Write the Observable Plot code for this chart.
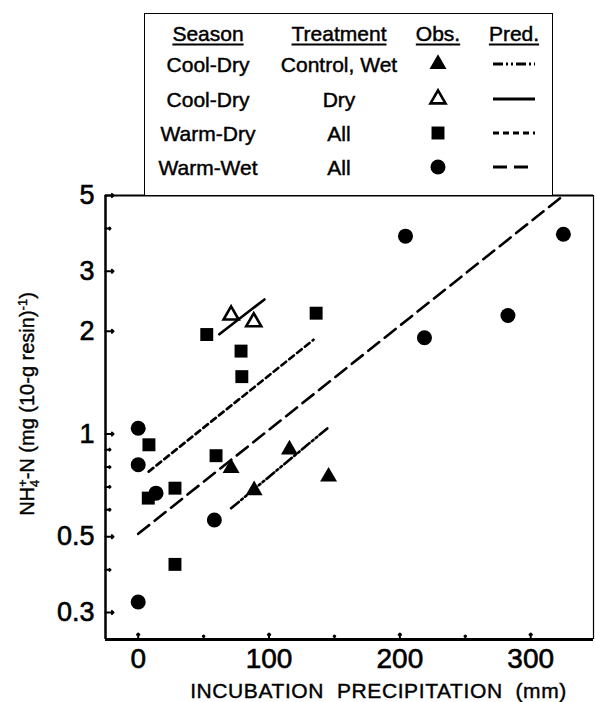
<!DOCTYPE html>
<html><head><meta charset="utf-8">
<script src="https://cdn.jsdelivr.net/npm/d3@7"></script>
<script src="https://cdn.jsdelivr.net/npm/@observablehq/plot@0.6"></script>
<style>
body{margin:0;background:#fff;font-family:"Liberation Sans",Arial,Helvetica,sans-serif;color:#000;}
#wrap{position:relative;width:595px;height:702px;overflow:hidden;}
#wrap svg text{stroke:#000;stroke-width:0.6px;}
#wrap svg g[aria-label="text"] text{letter-spacing:0.6px;stroke-width:0.4px;}
#legend{position:absolute;left:144px;top:13px;width:409px;height:182px;border:1.3px solid #000;border-bottom:none;box-sizing:border-box;background:#fff;}
.cell{position:absolute;transform:translate(-50%,-50%);font-size:21px;white-space:nowrap;line-height:1;-webkit-text-stroke:0.45px #000;}
.hdr{text-decoration:underline;text-decoration-thickness:1.5px;text-underline-offset:3px;}
.cell svg{display:block;}
#ytitle{position:absolute;left:29px;top:404px;transform:translate(-50%,-50%) rotate(-90deg);font-size:20px;white-space:nowrap;line-height:1;-webkit-text-stroke:0.4px #000;}
.ss{display:inline-block;vertical-align:-0.35em;font-size:13px;line-height:0.95;text-align:left;}
.ss span{display:block;}
sup.m{font-size:13px;vertical-align:0.55em;line-height:0;}
</style></head>
<body><div id="wrap"></div>
<script>
// ---- data ----
const xDomain = [-25, 348];
const yDomain = [0.25, 5];
const xTicks = [0, 100, 200, 300];
const xMinor = [50, 150, 250];
const yTicks = [5, 3, 2, 1, 0.5, 0.3];
const yMinor = [4, 0.9, 0.8, 0.7, 0.6, 0.4];

// observations
const coolWetX = [71, 88.6, 115.6, 145.5];
const coolWetY = [0.795, 0.684, 0.90, 0.75];
const coolDryX = [71, 88.3];
const coolDryY = [2.23, 2.13];
const warmDryX = [8.2, 7.7, 28.1, 59.5, 28.1, 52.4, 78.6, 79.2, 136];
const warmDryY = [0.93, 0.649, 0.694, 0.864, 0.415, 1.957, 1.75, 1.473, 2.26];
const warmWetX = [0, 0, 13.6, 58.2, 0, 204.3, 218.8, 282.6, 325];
const warmWetY = [1.04, 0.813, 0.671, 0.56, 0.322, 3.80, 1.914, 2.225, 3.85];

// predicted lines (start, end)
const coolWetPredX = [71, 146];
const coolWetPredY = [0.606, 1.05];
const coolDryPredX = [62, 96.5];
const coolDryPredY = [1.96, 2.48];
const warmDryPredX = [8, 134];
const warmDryPredY = [0.776, 1.89];
const warmWetPredX = [0, 325];
const warmWetPredY = [0.51, 5.0];

// legend
const legendHeaders = ["Season", "Treatment", "Obs.", "Pred."];
const legendSeason = ["Cool-Dry", "Cool-Dry", "Warm-Dry", "Warm-Wet"];
const legendTreatment = ["Control, Wet", "Dry", "All", "All"];

const xTitle = "INCUBATION  PRECIPITATION  (mm)";

// ---- styles ----
const styles = [
  {symbol: "triangle", fill: "black", stroke: "none", sw: 0, r: 6.3, dash: "10,3,2,3,2,3"},
  {symbol: "triangle", fill: "white", stroke: "black", sw: 2.6, r: 5.6, dash: null},
  {symbol: "square", fill: "black", stroke: "none", sw: 0, r: 7.3, dash: "6,4"},
  {symbol: "circle", fill: "black", stroke: "none", sw: 0, r: 7.5, dash: "14,7"}
];
const zip = (xs, ys) => xs.map((x, i) => ({x, y: ys[i]}));
const obsSets = [zip(coolWetX, coolWetY), zip(coolDryX, coolDryY), zip(warmDryX, warmDryY), zip(warmWetX, warmWetY)];
const predSets = [zip(coolWetPredX, coolWetPredY), zip(coolDryPredX, coolDryPredY), zip(warmDryPredX, warmDryPredY), zip(warmWetPredX, warmWetPredY)];

const marks = [
  Plot.axisX(xTicks, {tickSize: 0, tickPadding: 9, fontSize: 28, label: null}),
  Plot.axisY(yTicks, {tickSize: 0, tickPadding: 11, fontSize: 27, label: null, tickFormat: d => String(d)}),
  Plot.vectorX(xTicks, {x: d => d, frameAnchor: "bottom", rotate: 0, length: 6, anchor: "start", strokeWidth: 2}),
  Plot.vectorX(xMinor, {x: d => d, frameAnchor: "bottom", rotate: 0, length: 4, anchor: "start", strokeWidth: 2}),
  Plot.vectorY(yTicks, {y: d => d, frameAnchor: "left", rotate: 90, length: 8, anchor: "start", strokeWidth: 2}),
  Plot.vectorY(yMinor, {y: d => d, frameAnchor: "left", rotate: 90, length: 5, anchor: "start", strokeWidth: 2}),
  Plot.ruleX([xDomain[0]], {strokeWidth: 2.5}),
  Plot.ruleX([xDomain[1]], {strokeWidth: 1.2}),
  Plot.ruleY([yDomain[0]], {strokeWidth: 3}),
  Plot.ruleY([yDomain[1]], {strokeWidth: 2.2}),
  Plot.text([xTitle], {frameAnchor: "bottom", dy: 52, dx: 29, text: d => d, fontSize: 21, fill: "black", lineAnchor: "middle"})
];
predSets.forEach((p, i) => {
  marks.push(Plot.line(p, {x: "x", y: "y", stroke: "black", strokeWidth: 2.6, strokeDasharray: styles[i].dash || undefined}));
});
obsSets.forEach((o, i) => {
  const s = styles[i];
  marks.push(Plot.dot(o, {x: "x", y: "y", symbol: () => s.symbol, r: s.r, fill: s.fill, stroke: s.stroke, strokeWidth: s.sw}));
});

const chart = Plot.plot({
  width: 595, height: 702,
  marginTop: 195, marginBottom: 63, marginLeft: 105, marginRight: 2,
  style: {fontFamily: '"Liberation Sans", Arial, Helvetica, sans-serif', color: "#000", background: "#fff"},
  x: {domain: xDomain},
  y: {type: "log", domain: yDomain},
  marks
});
const wrap = document.getElementById("wrap");
wrap.appendChild(chart);

// legend
const leg = document.createElement("div");
leg.id = "legend";
wrap.appendChild(leg);
const colX = [63, 194, 293, 369];
const rowY = [19, 50, 85, 119, 153];
function cell(html, cx, cy, cls) {
  const d = document.createElement("div");
  d.className = "cell" + (cls ? " " + cls : "");
  d.style.left = cx + "px"; d.style.top = cy + "px";
  d.innerHTML = html;
  leg.appendChild(d);
  return d;
}
legendHeaders.forEach((h, j) => cell(h, colX[j], rowY[0], "hdr"));
legendSeason.forEach((s, i) => {
  cell(s, colX[0], rowY[i + 1]);
  cell(legendTreatment[i], colX[1], rowY[i + 1]);
  const st = styles[i];
  const sym = {triangle: d3.symbolTriangle, square: d3.symbolSquare, circle: d3.symbolCircle}[st.symbol];
  const path = d3.symbol(sym, Math.PI * st.r * st.r)();
  cell(`<svg width="24" height="24"><path transform="translate(12,12)" d="${path}" fill="${st.fill}" stroke="${st.stroke}" stroke-width="${st.sw}"/></svg>`, colX[2], rowY[i + 1]);
  cell(`<svg width="44" height="8"><line x1="1" x2="43" y1="4" y2="4" stroke="black" stroke-width="2.8" ${st.dash ? `stroke-dasharray="${st.dash}"` : ""}/></svg>`, colX[3], rowY[i + 1]);
});

// y title
const yt = document.createElement("div");
yt.id = "ytitle";
yt.innerHTML = 'NH<span class="ss"><span>+</span><span>4</span></span>-N (mg (10-g resin)<sup class="m">-1</sup>)';
wrap.appendChild(yt);
</script></body></html>
